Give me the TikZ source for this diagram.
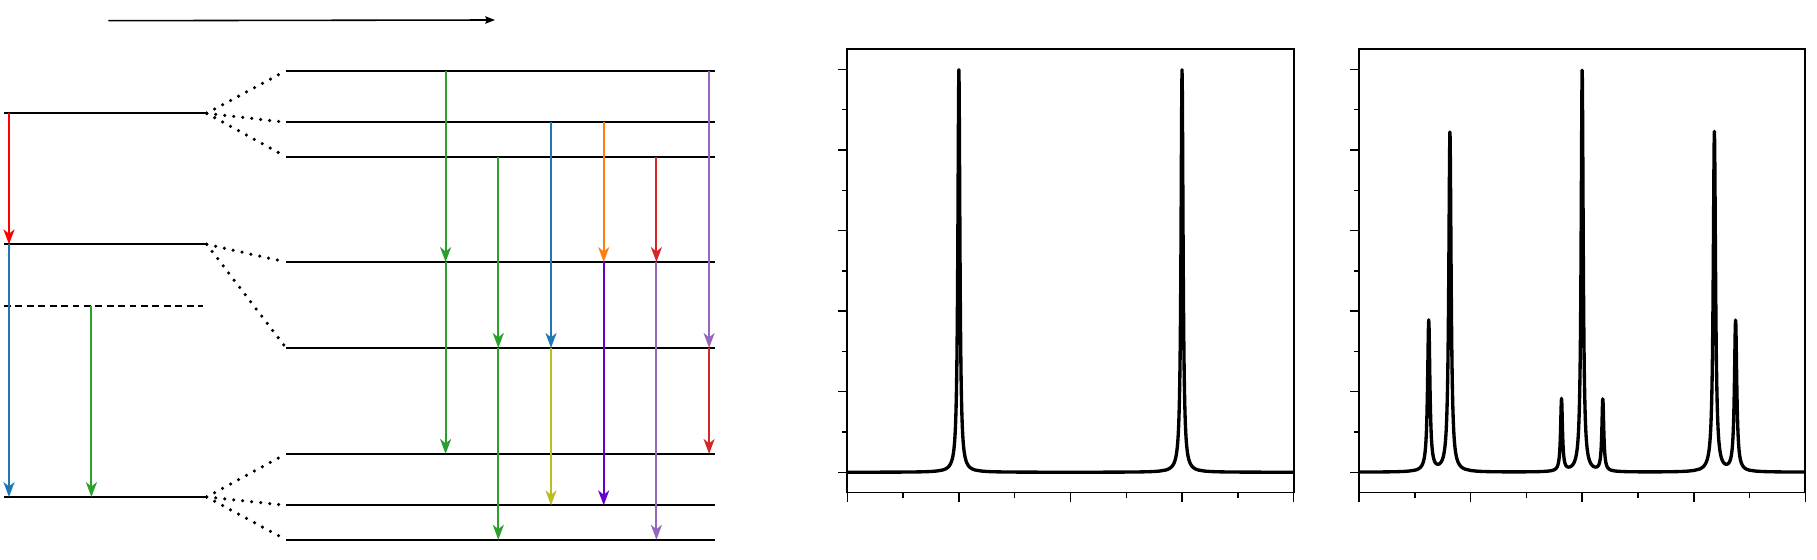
\documentclass[tikz,border=0pt]{standalone}
\usetikzlibrary{arrows.meta}
\definecolor{tgreen}{HTML}{2CA02C}
\definecolor{tblue}{HTML}{1F77B4}
\definecolor{torange}{HTML}{FF7F0E}
\definecolor{tred}{HTML}{D62728}
\definecolor{tpurple}{HTML}{9467BD}
\definecolor{tolive}{HTML}{BCBD22}
\definecolor{tindigo}{HTML}{6600CC}
\definecolor{pred}{HTML}{FF0000}
\begin{document}
\begin{tikzpicture}[x=0.02cm,y=-0.02cm,
  lvl/.style={line width=1.2pt},
  dotln/.style={line width=2pt,line cap=round,dash pattern=on 0pt off 5.15pt},
  dashln/.style={line width=1.2pt,dash pattern=on 3.9pt off 2.6pt},
  trans/.style={line width=1.05pt,-{Stealth[length=8.5pt,width=6.3pt,inset=2.5pt]}},
  toparrow/.style={line width=0.9pt,-{Stealth[length=5.5pt,width=4.2pt,inset=0.8pt]}},
  frame/.style={line width=1pt},
  tck/.style={line width=0.85pt},
  curve/.style={line width=1.9pt,line join=round},
  declare function={
    lor(\t,\c,\g,\h)=\h/(1+(min(abs(\t-\c)/\g,100))^2);
    fa(\t)=lor(\t,2,0.022,1)+lor(\t,6,0.022,1);
    fb(\t)=lor(\t,1.25,0.025,0.375)+lor(\t,1.63,0.025,0.845)+lor(\t,3.63,0.02,0.18)+lor(\t,4,0.022,1)+lor(\t,4.37,0.02,0.18)+lor(\t,6.37,0.025,0.845)+lor(\t,6.75,0.025,0.375);
  }]
\useasboundingbox (0,0) rectangle (1817,560);

% ---------- top arrow ----------
\coordinate (t1) at (108.3,20.7);
\coordinate (t2) at (495,20);
\draw[toparrow] (t1) -- (t2);

% ---------- left levels ----------
\coordinate (Al) at (4,113.3);   \coordinate (Ar) at (206.7,113.3);
\coordinate (Bl) at (4,244.3);   \coordinate (Br) at (206.7,244.3);
\coordinate (Dl) at (4,306.3);   \coordinate (Dr) at (203,306.3);
\coordinate (Cl) at (4,497);     \coordinate (Cr) at (206.7,497);
\draw[lvl] (Al) -- (Ar);
\draw[lvl] (Bl) -- (Br);
\draw[dashln] (Dl) -- (Dr);
\draw[lvl] (Cl) -- (Cr);

% ---------- right levels ----------
\foreach \n/\yy in {1/70.7,2/122.3,3/156.7,4/262,5/347.9,6/453.9,7/505.3,8/539.7}{
  \coordinate (R\n l) at (286,\yy);
  \coordinate (R\n r) at (715,\yy);
  \draw[lvl] (R\n l) -- (R\n r);
}

% ---------- dotted correlation lines ----------
\draw[dotln] (Ar) -- (R1l);
\draw[dotln] (Ar) -- (R2l);
\draw[dotln] (Ar) -- (R3l);
\draw[dotln] (Br) -- (R4l);
\draw[dotln] (Br) -- (R5l);
\draw[dotln] (Cr) -- (R6l);
\draw[dotln] (Cr) -- (R7l);
\draw[dotln] (Cr) -- (R8l);

% ---------- left transitions ----------
\coordinate (k0) at (9,0);
\coordinate (k1) at (91.4,0);
\draw[trans,pred] (k0 |- Al) -- (k0 |- Bl);
\draw[trans,tblue] (k0 |- Bl) -- (k0 |- Cl);
\draw[trans,tgreen] (k1 |- Dl) -- (k1 |- Cl);

% ---------- right transitions ----------
\coordinate (c1) at (445.6,0);
\coordinate (c2) at (498.3,0);
\coordinate (c3) at (551,0);
\coordinate (c4) at (603.7,0);
\coordinate (c5) at (656.4,0);
\coordinate (c6) at (709.1,0);
\draw[trans,tgreen] (c1 |- R1l) -- (c1 |- R4l);
\draw[trans,tgreen] (c1 |- R4l) -- (c1 |- R6l);
\draw[trans,tgreen] (c2 |- R3l) -- (c2 |- R5l);
\draw[trans,tgreen] (c2 |- R5l) -- (c2 |- R8l);
\draw[trans,tblue] (c3 |- R2l) -- (c3 |- R5l);
\draw[trans,tolive] (c3 |- R5l) -- (c3 |- R7l);
\draw[trans,torange] (c4 |- R2l) -- (c4 |- R4l);
\draw[trans,tindigo] (c4 |- R4l) -- (c4 |- R7l);
\draw[trans,tred] (c5 |- R3l) -- (c5 |- R4l);
\draw[trans,tpurple] (c5 |- R4l) -- (c5 |- R8l);
\draw[trans,tpurple] (c6 |- R1l) -- (c6 |- R5l);
\draw[trans,tred] (c6 |- R5l) -- (c6 |- R6l);

% ---------- spectrum 1 ----------
\begin{scope}[shift={(847.3,472.3)},x=1.116cm,y=8.06cm]
  \draw[frame] (0,-0.05) rectangle (8,1.05);
  \foreach \i in {0,2,4,6,8} \draw[tck] (\i,-0.05) -- ++(0pt,-5.3pt);
  \foreach \i in {1,3,5,7} \draw[tck] (\i,-0.05) -- ++(0pt,-2.9pt);
  \foreach \j in {0,0.2,0.4,0.6,0.8,1.0} \draw[tck] (0,\j) -- ++(-5.1pt,0pt);
  \foreach \j in {0.1,0.3,0.5,0.7,0.9} \draw[tck] (0,\j) -- ++(-3.1pt,0pt);
  \draw[curve] plot[domain=0:1.7,samples=18] (\x,{fa(\x)})
    -- plot[domain=1.7:2.3,samples=121] (\x,{fa(\x)})
    -- plot[domain=2.3:5.7,samples=35] (\x,{fa(\x)})
    -- plot[domain=5.7:6.3,samples=121] (\x,{fa(\x)})
    -- plot[domain=6.3:8,samples=18] (\x,{fa(\x)});
\end{scope}

% ---------- spectrum 2 ----------
\begin{scope}[shift={(1359,472.3)},x=1.116cm,y=8.06cm]
  \draw[frame] (0,-0.05) rectangle (8,1.05);
  \foreach \i in {0,2,4,6,8} \draw[tck] (\i,-0.05) -- ++(0pt,-5.3pt);
  \foreach \i in {1,3,5,7} \draw[tck] (\i,-0.05) -- ++(0pt,-2.9pt);
  \foreach \j in {0,0.2,0.4,0.6,0.8,1.0} \draw[tck] (0,\j) -- ++(-5.1pt,0pt);
  \foreach \j in {0.1,0.3,0.5,0.7,0.9} \draw[tck] (0,\j) -- ++(-3.1pt,0pt);
  \draw[curve] plot[domain=0:1,samples=11] (\x,{fb(\x)})
    -- plot[domain=1:1.9,samples=181] (\x,{fb(\x)})
    -- plot[domain=1.9:3.4,samples=16] (\x,{fb(\x)})
    -- plot[domain=3.4:4.6,samples=241] (\x,{fb(\x)})
    -- plot[domain=4.6:6.1,samples=16] (\x,{fb(\x)})
    -- plot[domain=6.1:7,samples=181] (\x,{fb(\x)})
    -- plot[domain=7:8,samples=11] (\x,{fb(\x)});
\end{scope}
\end{tikzpicture}
\end{document}
